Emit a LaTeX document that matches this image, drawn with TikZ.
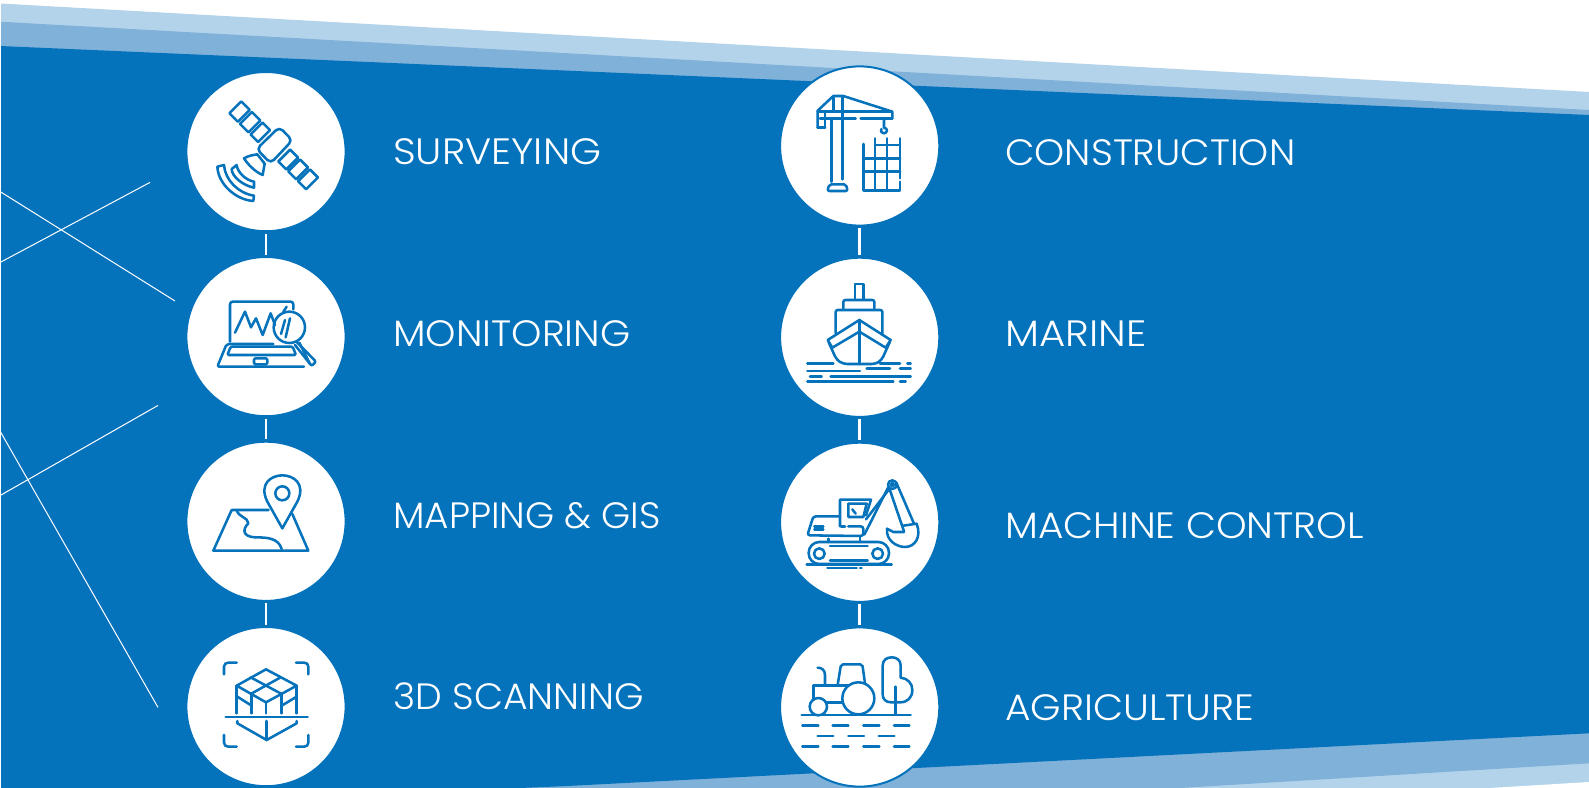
\documentclass[tikz,border=0pt]{standalone}
\usepackage{fontspec}
\usepackage{graphicx}
\setmainfont{Poppins Light}
\definecolor{mainblue}{HTML}{0572BC}
\definecolor{midblue}{HTML}{7FB1D9}
\definecolor{lightblue}{HTML}{B3D3EB}
\tikzset{
  disc/.style={circle,fill=white,draw=mainblue,line width=1.5pt,minimum size=119.4pt,inner sep=0pt,outer sep=0pt},
  label/.style={anchor=west,text=white,font=\fontsize{27.5}{32}\selectfont,inner sep=0pt},
  link/.style={draw=white,line width=1.9pt,shorten <=1.8pt,shorten >=1.8pt},
  ray/.style={draw=white,line width=.75pt},
  icon/.style={draw=mainblue,line width=1.9pt,line cap=round,line join=round},
}
\newcommand{\fitlabel}[2]{\resizebox{#1pt}{\height}{#2}}
\newenvironment{iconat}[2]{\begin{scope}[shift={(#1,#2)},x=.25pt,y=-.25pt,icon]}{\end{scope}}
\begin{document}
\begin{tikzpicture}[x=.75pt,y=-.75pt]
\useasboundingbox (0,0) rectangle (1589,788);
\fill[white] (0,0) rectangle (1589,788);
\begin{scope}
\clip (1,0) rectangle (1589,788);
\fill[lightblue] (0,3.5) -- (1589,92) -- (1589,788) -- (0,788) -- cycle;
\fill[white] (1589,782) -- (1490,788) -- (1589,788) -- cycle;
\fill[midblue] (0,21.7) -- (1589,110) -- (1589,763.3) -- (1180,788) -- (0,788) -- cycle;
\fill[mainblue] (0,46) -- (1589,115) -- (1589,733.3) -- (567,786) -- (520,788) -- (0,788) -- cycle;
\end{scope}
% thin rays
\coordinate (r1a) at (0,262.5); \coordinate (r1b) at (150,182.4);
\coordinate (r2a) at (0,191.5); \coordinate (r2b) at (175,301);
\coordinate (r3a) at (0,495.6); \coordinate (r3b) at (158,405.4);
\coordinate (r4a) at (0,431);   \coordinate (r4b) at (158,707.4);
\draw[ray] (r1a) -- (r1b);
\draw[ray] (r2a) -- (r2b);
\draw[ray] (r3a) -- (r3b);
\draw[ray] (r4a) -- (r4b);
% discs
\node[disc] (c1) at (266,151.6) {};
\node[disc] (c2) at (266,336.6) {};
\node[disc] (c3) at (266,521.3) {};
\node[disc] (c4) at (266,706.6) {};
\node[disc] (c5) at (859.7,146) {};
\node[disc] (c6) at (859.7,337.3) {};
\node[disc] (c7) at (859.7,522.3) {};
\node[disc] (c8) at (859.7,707) {};
\draw[link] (c1) -- (c2);
\draw[link] (c2) -- (c3);
\draw[link] (c3) -- (c4);
\draw[link] (c5) -- (c6);
\draw[link] (c6) -- (c7);
\draw[link] (c7) -- (c8);
% labels
\node[label] (t1) at (393,152) {\fitlabel{156}{SURVEYING}};
\node[label] (t2) at (393,333.2) {\fitlabel{177.8}{MONITORING}};
\node[label] (t3) at (393,515.6) {\fitlabel{200.7}{MAPPING \& GIS}};
\node[label] (t4) at (393,696.4) {\fitlabel{188}{3D SCANNING}};
\node[label] (t5) at (1005,152.6) {\fitlabel{217.5}{CONSTRUCTION}};
\node[label] (t6) at (1005,333.2) {\fitlabel{105.8}{MARINE}};
\node[label] (t7) at (1005,525.6) {\fitlabel{269}{MACHINE CONTROL}};
\node[label] (t8) at (1005,708) {\fitlabel{186.8}{AGRICULTURE}};
% satellite
\begin{iconat}{180}{65}
\draw (183.7,109.3)--(209.2,134.8)--(173.8,170.2)--(148.3,144.7)--cycle;
\draw (215.5,141.1)--(241,166.6)--(205.6,202)--(180.1,176.5)--cycle;
\draw (247.3,172.9)--(270,195.6)--(234.6,231)--(211.9,208.3)--cycle;
\draw (413.7,337.3)--(389.7,313.3)--(354.3,348.7)--(378.3,372.7)--cycle;
\draw (384,307.6)--(360,283.6)--(324.6,319)--(348.6,343)--cycle;
\draw (354.3,277.9)--(330.3,253.9)--(294.9,289.3)--(318.9,313.3)--cycle;
\draw[fill=white,rounded corners=3.5pt] (298,186)--(337,226)--(272,295)--(230,252)--cycle;
\draw (192,280) .. controls (205,272) and (220,270) .. (232,268) -- (254,296) -- (248,330) .. controls (225,320) and (205,300) .. (192,280) -- cycle;
\draw (170,300) .. controls (172,320) and (195,345) .. (222,350) -- (222,368) .. controls (190,362) and (155,335) .. (155,312) -- cycle;
\draw (132,300) .. controls (135,345) and (175,385) .. (222,392) -- (220,408) .. controls (170,405) and (115,360) .. (112,305) -- cycle;
\end{iconat}
% laptop
\begin{iconat}{180}{250}
\draw[rounded corners=2pt] (150,275) -- (150,155) -- (340,155) -- (340,178);
\draw (165,248)--(195,185)--(213,232)--(228,205)--(248,255)--(272,190)--(285,225);
\draw (310,185)--(320,170);
\draw (328,232) circle[radius=47];
\draw (303,252)--(315,210);
\draw (317,262)--(330,205);
\draw[rounded corners=1.5pt] (350,276)--(408,335)--(395,348)--(345,285);
\draw (358,278)--(390,342);
\draw[rounded corners=1.5pt] (372,350)--(112,350)--(140,282)--(280,282);
\draw[rounded corners=1pt] (152,290)--(142,315)--(348,315)--(338,290)--cycle;
\draw[rounded corners=1pt] (222,325)--(262,325)--(262,343)--(222,343)--cycle;
\end{iconat}
% map
\begin{iconat}{180}{430}
\draw (307,295) -- (262,215) .. controls (235,160) and (275,136) .. (307,136) .. controls (339,136) and (379,160) .. (352,215) -- cycle;
\draw (307,190) circle[radius=21];
\draw (266,240) -- (155,240) -- (100,362) -- (385,362) -- (337,252);
\draw (170,240) .. controls (175,262) and (205,262) .. (205,280) .. controls (185,300) and (190,320) .. (225,322) .. controls (265,322) and (295,325) .. (305,357);
\end{iconat}
% 3D scan
\begin{iconat}{180}{615}
\draw (132,178) -- (132,155) .. controls (132,147) and (138,143) .. (145,143) -- (170,143);
\draw (348,143) -- (372,143) .. controls (380,143) and (385,147) .. (385,155) -- (385,178);
\draw (132,360) -- (132,383) .. controls (132,391) and (138,395) .. (145,395) -- (170,395);
\draw (385,360) -- (385,383) .. controls (385,391) and (380,395) .. (372,395) -- (348,395);
\draw (258,163) -- (350,212) -- (258,262) -- (170,212) -- cycle;
\draw (212,187) -- (305,237);
\draw (302,187) -- (212,237);
\draw (170,212) -- (170,295);
\draw (350,212) -- (350,295);
\draw (258,262) -- (258,295);
\draw (215,237) -- (215,295);
\draw (305,237) -- (305,295);
\draw (172,245) -- (215,272);
\draw (350,245) -- (305,272);
\draw (137,306) -- (383,306);
\draw (172,318) -- (172,325) -- (260,375) -- (350,325) -- (350,318);
\draw (260,318) -- (260,375);
\end{iconat}
% crane
\begin{iconat}{765}{60}
\draw (158,203) -- (158,152) -- (205,108) -- (235,108) -- (382,155) -- (382,175);
\draw (180,203) -- (158,203);
\draw (180,203) -- (180,155);
\draw (158,155) -- (380,155);
\draw (205,112) -- (205,155);
\draw (232,112) -- (232,358);
\draw (200,178) -- (200,365);
\draw (165,175) -- (272,175);
\draw (287,175) -- (382,175);
\draw (357,178) -- (357,203) .. controls (370,205) and (368,220) .. (356,220) .. controls (348,220) and (346,212) .. (349,207);
\draw[rounded corners=1.5pt] (193,373) -- (243,373) -- (248,393) -- (187,393) -- cycle;
\draw (295,252) -- (295,392) -- (405,392) -- (405,365);
\draw (405,355) -- (405,235);
\draw (330,235) -- (330,392);
\draw (366,235) -- (366,392);
\draw (330,255) -- (405,255);
\draw (295,295) -- (405,295);
\draw (295,335) -- (405,335);
\end{iconat}
% ship
\begin{iconat}{765}{250}
\draw (270,148) -- (270,102) -- (295,102) -- (295,148);
\draw[rounded corners=1.5pt] (235,175) -- (235,150) -- (328,150) -- (328,175);
\draw[rounded corners=1.5pt] (212,250) -- (212,180) -- (352,180) -- (352,255);
\draw (188,270) -- (283,210) -- (377,270) -- (362,293) -- (283,245) -- (202,293) -- cycle;
\draw[rounded corners=3pt] (191,277) -- (215,330) -- (235,342) -- (333,342) -- (350,330) -- (374,277);
\draw (283,210) -- (283,342);
\foreach \yy/\aa/\bb in {341/127/205,341/345/405,341/427/437,356/305/375,356/405/437,363/127/285,379/135/170,379/197/437,394/127/385,394/405/422}
  \draw (\aa,\yy) -- (\bb,\yy);
\end{iconat}
% excavator
\begin{iconat}{765}{432}
\draw (225,283) -- (225,203) -- (318,203) -- (303,250);
\draw (250,215) -- (305,215) -- (295,255) -- (250,255) -- cycle;
\draw (262,232) -- (272,245);
\draw[rounded corners=2pt] (225,253) -- (145,253) -- (127,310) -- (295,312) -- (295,283) -- (250,283);
\draw (228,283) -- (240,283);
\draw (148,283) -- (175,283);
\draw (148,293) -- (175,293);
\draw (298,308) -- (370,165);
\draw (303,262) -- (372,172);
\draw (382,158) circle[radius=13];
\draw (382,158) circle[radius=5];
\draw (394,152) -- (447,275);
\draw (374,172) -- (417,298);
\draw (366,290) .. controls (362,325) and (395,345) .. (420,345) .. controls (450,345) and (470,315) .. (455,275) -- (415,281);
\draw (366,290) -- (385,300) -- (417,300);
\draw (190,320) -- (190,330);
\draw (285,315) -- (285,330);
\draw[rounded corners=8pt] (131,330) rectangle (372,396);
\draw (163,365) circle[radius=16];
\draw (338,365) circle[radius=16];
\draw (195,342) -- (308,342);
\draw (195,385) -- (308,385);
\draw (125,397) -- (380,397);
\draw (187,408) -- (275,408);
\draw (285,408) -- (290,408);
\end{iconat}
% tractor
\begin{iconat}{765}{615}
\draw (110,300) -- (437,300);
\foreach \aa/\bb in {112/160,203/250,295/343,387/433} {
  \draw (\aa,331) -- (\bb,331);
  \draw (\aa,395) -- (\bb,395);
}
\foreach \aa/\bb in {158/205,250/297,341/388}
  \draw (\aa,363) -- (\bb,363);
\draw (280,250) circle[radius=48];
\draw (160,275) circle[radius=26];
\draw[rounded corners=1.5pt] (218,210) -- (228,148) -- (292,148) -- (300,205);
\draw (145,255) -- (145,212) -- (250,212);
\draw (185,262) -- (232,262);
\draw (180,212) -- (180,180) .. controls (180,165) and (170,158) .. (158,158);
\draw (392,262) -- (378,262) .. controls (362,262) and (353,252) .. (353,238) -- (353,152) .. controls (353,135) and (365,127) .. (380,127) .. controls (395,127) and (407,135) .. (407,152) -- (407,188) .. controls (428,190) and (442,205) .. (442,225) .. controls (442,247) and (428,262) .. (405,262) -- (392,262);
\draw (392,215) -- (392,298);
\end{iconat}
\end{tikzpicture}
\end{document}
